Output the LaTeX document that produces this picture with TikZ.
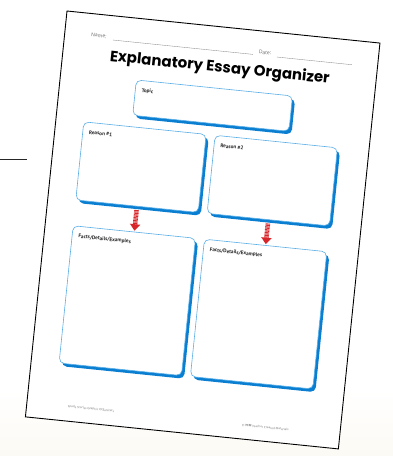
\documentclass[tikz,border=0pt]{standalone}
\usepackage{fontspec}
\setmainfont{Open Sans}
\newfontfamily\titlefont{Poppins}
\newfontfamily\lblfont{PT Sans}
\usetikzlibrary{arrows.meta,shadows,positioning}
\definecolor{boxblue}{HTML}{0A7FD2}
\definecolor{edgeblue}{HTML}{5AAEE6}
\definecolor{arrowred}{HTML}{D7262B}
\definecolor{cream}{HTML}{FCFAF4}
\tikzset{
  box/.style={draw=edgeblue, line width=0.6pt, fill=white, rounded corners=5pt,
    inner sep=0pt, minimum width=123pt,
    drop shadow={shadow xshift=2.6pt, shadow yshift=-3.2pt, fill=boxblue, opacity=1}},
  lbl/.style={font=\lblfont\bfseries\fontsize{5.2}{6}\selectfont, inner sep=0pt, text=black!85},
  tag/.style={label={[lbl, anchor=north west, xshift=6.5pt, yshift=-8pt]north west:#1}},
  pointer/.style={draw=arrowred, line width=4.6pt, dash pattern=on 0.9pt off 0.55pt,
    -{Triangle[width=10pt,length=6.5pt]}, shorten <=3.6pt, shorten >=1pt},
  rule/.style={draw=black!45, line width=0.35pt},
  small/.style={font=\fontsize{5}{6}\selectfont, text=black!60, inner sep=0pt},
  foot/.style={font=\fontsize{3}{4}\selectfont, text=black!55, inner sep=0pt, anchor=west}
}
\begin{document}
\begin{tikzpicture}[x=1pt, y=1pt]
  \useasboundingbox (0,0) rectangle (393,-456);
  \fill[white] (0,0) rectangle (393,-456);
  \shade[top color=white, bottom color=cream] (0,-390) rectangle (393,-456);
  \draw[line width=0.9pt, black!85] (0,-159) -- (27,-159);
  \begin{scope}[shift={(67,-11)}, rotate=-5.85, transform shape]
    % the sheet
    \draw[fill=white, line width=0.9pt] (0,0) rectangle (314.6,-408);
    \node[small, anchor=base west] (name) at (26.5,-23) {Name:};
    \coordinate (n1) at (48.7,-24.2);
    \coordinate (n2) at (189.4,-24.2);
    \draw[rule] (n1) -- (n2);
    \node[small, anchor=base west] (date) at (195,-23) {Date:};
    \coordinate (d1) at (213.6,-24.4);
    \coordinate (d2) at (289,-24.4);
    \draw[rule] (d1) -- (d2);
    \node[inner sep=0pt] (title) at (157.8,-41.5) {\titlefont\bfseries\fontsize{15}{16}\selectfont Explanatory Essay Organizer};
    % boxes
    \node[box, minimum width=157pt, minimum height=35.5pt, tag=Topic] (1) at (154.5,-79.3) {};
    \node[box, minimum height=78.5pt, tag=Reason \#1] (2) at (89.5,-147.8) {};
    \node[box, minimum height=78.5pt, tag=Reason \#2] (3) at (221.5,-147.8) {};
    \node[box, minimum height=138pt, tag=Facts/Details/Examples] (4) at (89.5,-282) {};
    \node[box, minimum height=138pt, tag=Facts/Details/Examples] (5) at (221.5,-282) {};
    \draw[pointer] (2.south) -- (4.north);
    \draw[pointer] (3.south) -- (5.north);
    \node[foot] (f1) at (41,-393.5) {Grade Stories Graphic Organizers};
    \node[foot] (f2) at (216,-394) {\copyright\ \textbf{TCM} Teacher Created Materials};
  \end{scope}
\end{tikzpicture}
\end{document}
